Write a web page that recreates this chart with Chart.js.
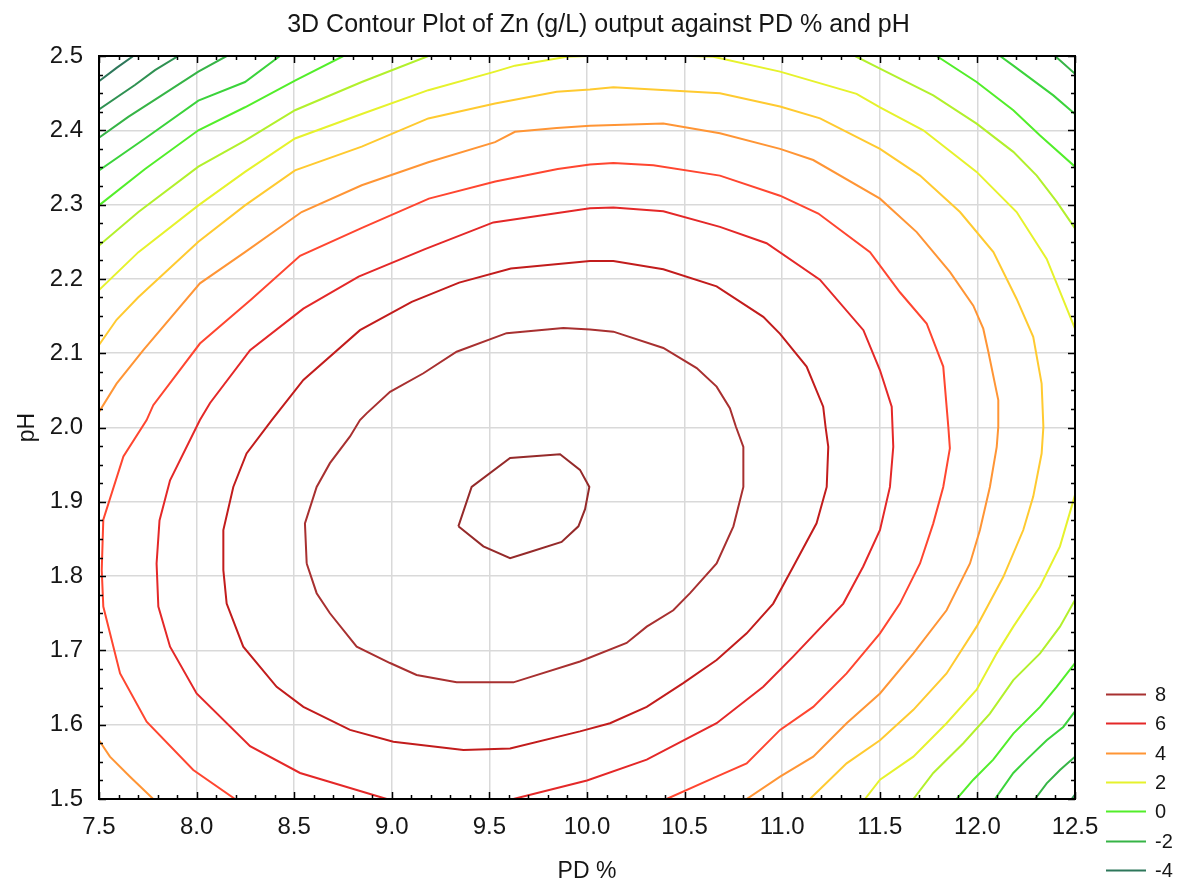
<!DOCTYPE html>
<html>
<head>
<meta charset="utf-8">
<title>3D Contour Plot of Zn (g/L)</title>
<script src="https://cdn.jsdelivr.net/npm/chart.js@4.4.1/dist/chart.umd.min.js"></script>
<style>
  html, body { margin: 0; padding: 0; background: #fff; }
  #wrap { width: 1181px; height: 885px; }
</style>
</head>
<body>
<div id="wrap"><canvas id="contourChart" width="1181" height="885"></canvas></div>
<script>
// contour levels of Zn (g/L)
const levels = [9, 8, 7, 6, 5, 4, 3, 2, 1, 0, -1, -2, -3, -4];
const legendLevels = [8, 6, 4, 2, 0, -2, -4];

// tick values
const xTickValues = [7.5, 8.0, 8.5, 9.0, 9.5, 10.0, 10.5, 11.0, 11.5, 12.0, 12.5];
const yTickValues = [1.5, 1.6, 1.7, 1.8, 1.9, 2.0, 2.1, 2.2, 2.3, 2.4, 2.5];

// contour lines as [PD %, pH] points, null = line leaves the plot
const zn9 = [[9.341,1.867],[9.409,1.920],[9.606,1.959],[9.862,1.964],[9.964,1.943],[10.012,1.920],
  [9.990,1.890],[9.956,1.867],[9.870,1.846],[9.691,1.831],[9.606,1.824],[9.469,1.840],[9.341,1.867]];

const zn8 = [[8.564,1.817],[8.555,1.871],[8.615,1.920],[8.683,1.952],[8.786,1.988],[8.837,2.010],
  [8.871,2.019],[8.991,2.048],[9.162,2.073],[9.332,2.102],[9.588,2.127],[9.879,2.134],[10.015,2.132],
  [10.135,2.129],[10.391,2.107],[10.562,2.080],[10.664,2.055],[10.732,2.026],[10.763,2.001],
  [10.801,1.974],[10.801,1.920],[10.750,1.867],[10.664,1.817],[10.528,1.777],[10.442,1.754],
  [10.306,1.732],[10.203,1.710],[9.964,1.685],[9.623,1.657],[9.332,1.657],[9.127,1.667],
  [8.991,1.683],[8.820,1.705],[8.683,1.750],[8.615,1.777],[8.564,1.817]];

const zn7 = [[8.137,1.808],[8.137,1.862],[8.188,1.920],[8.256,1.965],[8.385,2.010],[8.547,2.064],
  [8.837,2.131],[9.102,2.169],[9.345,2.195],[9.610,2.214],[10.015,2.224],[10.135,2.224],[10.391,2.213],
  [10.664,2.190],[10.903,2.149],[10.989,2.126],[11.125,2.082],[11.210,2.028],[11.222,2.001],
  [11.236,1.974],[11.228,1.920],[11.176,1.871],[11.057,1.813],[10.954,1.763],[10.818,1.723],
  [10.664,1.687],[10.493,1.656],[10.306,1.624],[10.118,1.602],[9.964,1.591],[9.606,1.568],
  [9.367,1.566],[9.008,1.577],[8.786,1.593],[8.547,1.624],[8.410,1.651],[8.239,1.705],
  [8.154,1.763],[8.137,1.808]];

const zn6 = [[8.974,1.500],[8.530,1.535],[8.274,1.571],[8.000,1.642],[7.864,1.705],[7.804,1.759],
  [7.795,1.817],[7.810,1.875],[7.864,1.929],[8.017,2.010],[8.069,2.033],[8.274,2.104],[8.547,2.160],
  [8.830,2.203],[9.170,2.240],[9.520,2.276],[10.015,2.295],[10.135,2.296],[10.391,2.291],
  [10.681,2.270],[10.920,2.248],[11.193,2.199],[11.416,2.131],[11.501,2.077],[11.561,2.028],
  [11.569,1.974],[11.552,1.920],[11.501,1.862],[11.415,1.813],[11.313,1.763],[11.057,1.692],
  [10.903,1.651],[10.664,1.602],[10.306,1.553],[10.000,1.525],[9.623,1.500]];

const zn5 = [[8.197,1.500],[7.983,1.539],[7.744,1.604],[7.608,1.669],[7.522,1.759],[7.514,1.808],
  [7.522,1.876],[7.625,1.961],[7.744,2.010],[7.778,2.030],[8.017,2.113],[8.278,2.172],[8.530,2.231],
  [8.850,2.269],[9.190,2.308],[9.530,2.331],[9.850,2.348],[10.015,2.354],[10.135,2.356],
  [10.340,2.353],[10.681,2.339],[10.989,2.312],[11.185,2.288],[11.450,2.236],[11.603,2.182],
  [11.740,2.140],[11.825,2.082],[11.851,2.001],[11.859,1.972],[11.825,1.920],[11.774,1.871],
  [11.706,1.817],[11.603,1.763],[11.501,1.723],[11.330,1.669],[11.159,1.624],[10.989,1.593],
  [10.818,1.548],[10.664,1.530],[10.408,1.500]];

const zn4 = [[7.500,2.021],[7.590,2.059],[7.727,2.104],[8.017,2.194],[8.248,2.236],[8.538,2.290],
  [8.846,2.326],[9.187,2.357],[9.529,2.384],[9.631,2.398],[9.845,2.403],[10.015,2.406],[10.391,2.409],
  [10.681,2.396],[10.989,2.375],[11.159,2.360],[11.501,2.308],[11.689,2.263],[11.860,2.209],
  [11.979,2.164],[12.030,2.133],[12.056,2.102],[12.107,2.037],[12.107,2.001],[12.099,1.974],
  [12.064,1.920],[12.013,1.862],[11.962,1.817],[11.842,1.754],[11.672,1.696],[11.501,1.642],
  [11.330,1.602],[11.159,1.557],[10.989,1.530],[10.818,1.500],
  null,
  [7.500,1.579],[7.556,1.557],[7.659,1.530],[7.778,1.500]];

const zn3 = [[7.500,2.111],[7.590,2.145],[7.700,2.175],[8.009,2.250],[8.248,2.299],[8.504,2.346],
  [8.846,2.378],[9.187,2.416],[9.529,2.436],[9.845,2.452],[10.015,2.455],[10.135,2.458],[10.476,2.453],
  [10.681,2.450],[10.989,2.432],[11.194,2.416],[11.501,2.375],[11.706,2.339],[11.911,2.290],
  [12.082,2.236],[12.201,2.173],[12.286,2.122],[12.329,2.059],[12.338,2.001],[12.329,1.965],
  [12.286,1.907],[12.235,1.862],[12.133,1.799],[11.996,1.732],[11.842,1.669],[11.672,1.620],
  [11.501,1.579],[11.330,1.548],[11.142,1.500]];

const zn2 = [[7.500,2.185],[7.702,2.236],[8.009,2.299],[8.248,2.344],[8.504,2.389],[8.846,2.422],
  [9.187,2.454],[9.529,2.479],[9.631,2.487],[9.896,2.499],[10.000,2.500],
  null,
  [10.530,2.500],[10.647,2.499],[10.989,2.479],[11.381,2.449],[11.501,2.431],[11.723,2.400],
  [11.996,2.344],[12.201,2.290],[12.355,2.227],[12.500,2.133],
  null,
  [12.500,1.909],[12.423,1.840],[12.321,1.786],[12.184,1.732],[12.099,1.696],[11.996,1.647],
  [11.842,1.602],[11.672,1.557],[11.501,1.526],[11.424,1.500]];

const zn1 = [[7.500,2.245],[7.702,2.290],[8.009,2.351],[8.248,2.386],[8.504,2.427],[8.846,2.465],[9.187,2.500],
  null,
  [11.373,2.500],[11.501,2.483],[11.774,2.447],[11.996,2.409],[12.184,2.371],[12.304,2.339],
  [12.406,2.304],[12.500,2.268],
  null,
  [12.500,1.768],[12.423,1.732],[12.321,1.696],[12.184,1.660],[12.064,1.615],[11.928,1.575],
  [11.774,1.535],[11.672,1.500]];

const zn0 = [[7.500,2.299],[7.736,2.348],[8.009,2.400],[8.248,2.431],[8.504,2.467],[8.752,2.500],
  null,
  [11.791,2.500],[11.996,2.465],[12.184,2.427],[12.321,2.393],[12.500,2.351],
  null,
  [12.500,1.683],[12.406,1.651],[12.321,1.624],[12.184,1.588],[12.081,1.553],[11.979,1.526],[11.894,1.500]];

const znM1 = [[7.500,2.346],[7.736,2.389],[8.009,2.440],[8.248,2.465],[8.427,2.500],
  null,
  [12.116,2.500],[12.184,2.487],[12.389,2.447],[12.500,2.422],
  null,
  [12.500,1.618],[12.440,1.597],[12.355,1.579],[12.252,1.553],[12.184,1.535],[12.090,1.500]];

const znM2 = [[7.500,2.390],[7.650,2.418],[7.821,2.447],[8.009,2.479],[8.154,2.500],
  null,
  [12.398,2.500],[12.500,2.476],
  null,
  [12.500,1.557],[12.423,1.539],[12.355,1.521],[12.295,1.500]];

const znM3 = [[7.500,2.428],[7.684,2.461],[7.787,2.481],[7.906,2.500],
  null,
  [12.483,1.500],[12.500,1.506]];

const znM4 = [[7.500,2.466],[7.590,2.484],[7.676,2.500]];

const linesByLevel = {
  '9': zn9, '8': zn8, '7': zn7, '6': zn6, '5': zn5, '4': zn4, '3': zn3,
  '2': zn2, '1': zn1, '0': zn0, '-1': znM1, '-2': znM2, '-3': znM3, '-4': znM4
};

// styles
const levelColors = {
  '9': '#952a2a', '8': '#a83030', '7': '#c21c1c', '6': '#e42828', '5': '#ff4630',
  '4': '#ff9535', '3': '#ffca30', '2': '#e6f22c', '1': '#b2f02c', '0': '#52ee2a',
  '-1': '#3bd33b', '-2': '#36b446', '-3': '#2f9152', '-4': '#2d775a'
};
const FONT = "'Liberation Sans', Arial, Helvetica, sans-serif";
const TEXT = '#161616';

const datasets = levels.map(lv => ({
  label: 'Zn = ' + lv,
  data: linesByLevel[String(lv)].map(p => p ? { x: p[0], y: p[1] } : { x: null, y: null }),
  showLine: true,
  borderColor: levelColors[String(lv)],
  borderWidth: 2,
  pointRadius: 0,
  pointHoverRadius: 0,
  tension: 0,
  spanGaps: false,
  fill: false
}));

// frame + inward tick marks, like the original software
const framePlugin = {
  id: 'frame',
  afterDatasetsDraw(chart) {
    const { ctx, chartArea: a, scales: { x, y } } = chart;
    ctx.save();
    ctx.strokeStyle = '#000';
    ctx.lineWidth = 1.5;
    ctx.beginPath();
    for (let i = 0; i <= 50; i++) {
      const v = xTickValues[0] + i * 0.1;
      const px = Math.round(x.getPixelForValue(v)) + 0.5;
      const len = i % 5 === 0 ? 7 : 4;
      ctx.moveTo(px, a.bottom); ctx.lineTo(px, a.bottom - len);
      ctx.moveTo(px, a.top); ctx.lineTo(px, a.top + len);
    }
    for (let j = 0; j <= 40; j++) {
      const v = yTickValues[0] + j * 0.025;
      const py = Math.round(y.getPixelForValue(v)) + 0.5;
      const len = j % 4 === 0 ? 7 : 4;
      ctx.moveTo(a.left, py); ctx.lineTo(a.left + len, py);
      ctx.moveTo(a.right, py); ctx.lineTo(a.right - len, py);
    }
    ctx.stroke();
    ctx.lineWidth = 2;
    ctx.strokeRect(a.left, a.top, a.right - a.left, a.bottom - a.top);
    ctx.restore();
  }
};

// legend at the lower right, outside the plot
const levelLegend = {
  id: 'levelLegend',
  afterDraw(chart) {
    const { ctx, chartArea: a } = chart;
    const x0 = a.right + 31;
    const y0 = a.bottom - 105;
    const step = 29.3;
    ctx.save();
    ctx.font = '20px ' + FONT;
    ctx.textBaseline = 'middle';
    ctx.textAlign = 'left';
    legendLevels.forEach((lv, i) => {
      const yy = Math.round(y0 + i * step) + 0.5;
      ctx.strokeStyle = levelColors[String(lv)];
      ctx.lineWidth = 2;
      ctx.beginPath();
      ctx.moveTo(x0, yy);
      ctx.lineTo(x0 + 40, yy);
      ctx.stroke();
      ctx.fillStyle = TEXT;
      ctx.fillText(String(lv), x0 + 49, yy + 1);
    });
    ctx.restore();
  }
};

new Chart(document.getElementById('contourChart').getContext('2d'), {
  type: 'scatter',
  data: { datasets },
  options: {
    responsive: false,
    animation: false,
    events: [],
    layout: { padding: { left: 16, right: 0, top: 0, bottom: 0 } },
    plugins: {
      legend: { display: false },
      tooltip: { enabled: false },
      title: {
        display: true,
        text: '3D Contour Plot of Zn (g/L) output against PD % and pH',
        color: TEXT,
        font: { family: FONT, size: 25, weight: 'normal', lineHeight: 1.2 },
        padding: { top: 10, bottom: 16 }
      }
    },
    scales: {
      x: {
        type: 'linear',
        min: xTickValues[0],
        max: xTickValues[xTickValues.length - 1],
        afterBuildTicks: s => { s.ticks = xTickValues.map(v => ({ value: v })); },
        afterFit: s => { s.height = 86; },
        grid: { color: '#d9d9d9', lineWidth: 1.5, drawTicks: false },
        border: { display: false },
        ticks: {
          padding: 14,
          color: TEXT,
          font: { family: FONT, size: 24 },
          maxRotation: 0,
          autoSkip: false,
          callback: v => Number(v).toFixed(1)
        },
        title: {
          display: true,
          text: 'PD %',
          color: TEXT,
          font: { family: FONT, size: 23 },
          padding: { top: 0, bottom: 0 }
        }
      },
      y: {
        type: 'linear',
        min: yTickValues[0],
        max: yTickValues[yTickValues.length - 1],
        afterBuildTicks: s => { s.ticks = yTickValues.map(v => ({ value: v })); },
        afterFit: s => { s.width = 83; },
        grid: { color: '#d9d9d9', lineWidth: 1.5, drawTicks: false },
        border: { display: false },
        ticks: {
          padding: 16,
          color: TEXT,
          font: { family: FONT, size: 24 },
          autoSkip: false,
          callback: v => Number(v).toFixed(1)
        },
        title: {
          display: true,
          text: 'pH',
          color: TEXT,
          font: { family: FONT, size: 23 },
          padding: { top: -2, bottom: 0 }
        }
      },
      // empty axis that only reserves room for the level legend
      legendSpace: {
        type: 'linear',
        position: 'right',
        display: true,
        afterFit: s => { s.width = 106; },
        grid: { display: false, drawTicks: false },
        border: { display: false },
        ticks: { display: false },
        title: { display: false }
      }
    }
  },
  plugins: [framePlugin, levelLegend]
});
</script>
</body>
</html>
